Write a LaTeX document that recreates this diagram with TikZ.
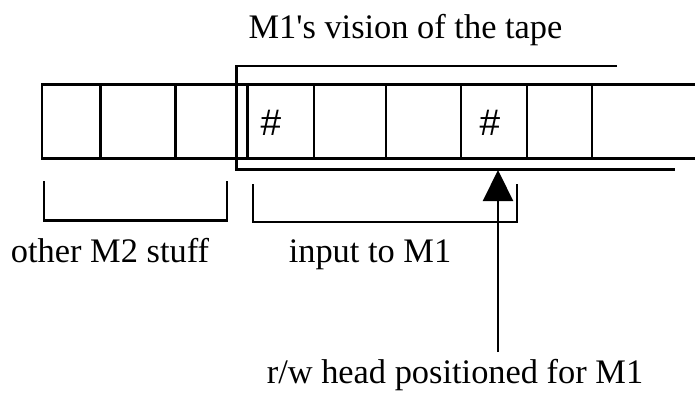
\documentclass[tikz,border=0pt]{standalone}
\usepackage{fontspec}
\setmainfont{Liberation Serif}
\newfontfamily\hashfont{Liberation Sans}
\usetikzlibrary{arrows.meta}
\begin{document}
\begin{tikzpicture}[x=1pt,y=-1pt,line width=2.2pt,
  lbl/.style={font=\fontsize{34.4}{40}\selectfont,inner sep=0pt,anchor=base},
  hash/.style={font=\hashfont\fontsize{37}{40}\selectfont,inner sep=0pt},
  headarrow/.style={-{Triangle[length=31pt,width=30pt]}}]
\useasboundingbox (0,0) rectangle (695,396);

% the tape, open to the right
\draw (695,84.5) -- (42,84.5) -- (42,158.5) -- (695,158.5);
\foreach \x in {100.5,175.5,247.5,314,386,461,527,592}
  \draw (\x,84.5) -- (\x,158.5);
\node[hash] (h1) at (271,123) {\#};
\node[hash] (h2) at (490,123) {\#};

% frame marking the part of the tape seen by M1
\draw (617,66) -- (236.5,66) -- (236.5,169.5) -- (675,169.5);

% brackets under the tape
\draw (44,181) -- (44,220.5) -- (227,220.5) -- (227,181);
\draw (253,184) -- (253,222) -- (517,222) -- (517,184);

% labels
\node[lbl] (title) at (405.5,38) {M1\textquotesingle s vision of the tape};
\node[lbl] (other) at (110,262) {other M2 stuff};
\node[lbl] (input) at (370,262) {input to M1};
\node[lbl] (rw) at (455,383) {r/w head positioned for M1};

% read/write head
\coordinate (foot) at (498,352);
\coordinate (tip) at (498,170);
\draw[headarrow] (foot) -- (tip);
\end{tikzpicture}
\end{document}
